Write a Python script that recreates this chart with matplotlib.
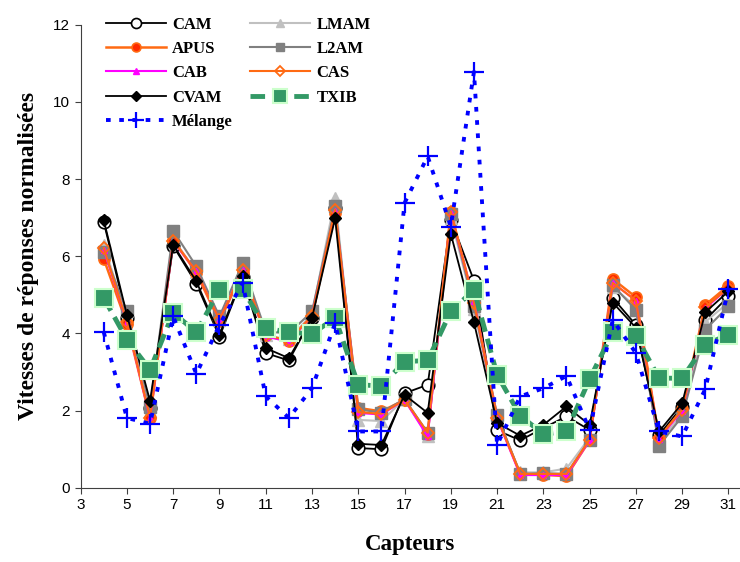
import numpy as np
import matplotlib
matplotlib.use('Agg')
import matplotlib.pyplot as plt

# sensors 4..31
capteurs = list(range(4, 32))

cam = [6.88, 4.40, 2.07, 6.27, 5.29, 3.91, 5.45, 3.49, 3.30, 4.40, 7.25, 1.03, 1.00, 2.45,
       2.67, 6.95, 5.37, 1.49, 1.23, 1.55, 1.85, 1.50, 4.92, 4.22, 1.37, 2.10, 4.35, 4.96]
lmam = [6.30, 4.40, 2.00, 6.45, 5.60, 4.35, 5.65, 3.95, 3.85, 4.50, 7.51, 1.76, 1.73, 2.30,
        1.35, 7.00, 4.64, 1.80, 0.40, 0.40, 0.50, 1.30, 5.20, 4.70, 1.20, 1.90, 4.30, 4.80]
apus = [5.93, 4.25, 1.81, 6.43, 5.57, 4.31, 5.60, 3.95, 3.80, 4.45, 7.12, 2.07, 1.98, 2.28,
        1.40, 7.16, 4.83, 1.85, 0.36, 0.34, 0.30, 1.23, 5.41, 4.94, 1.29, 2.04, 4.74, 5.24]
l2am = [6.12, 4.57, 2.09, 6.66, 5.74, 4.44, 5.82, 4.05, 4.00, 4.57, 7.29, 2.03, 1.95, 2.30,
        1.43, 7.10, 4.70, 1.89, 0.36, 0.38, 0.36, 1.25, 5.25, 4.61, 1.09, 1.85, 4.10, 4.70]
cab = [6.17, 4.29, 1.80, 6.38, 5.61, 4.35, 5.65, 3.92, 3.79, 4.46, 7.17, 1.94, 1.90, 2.28,
       1.33, 7.12, 4.83, 1.80, 0.33, 0.33, 0.33, 1.23, 5.31, 4.85, 1.27, 2.00, 4.65, 5.18]
cas = [6.21, 4.30, 1.82, 6.40, 5.61, 4.35, 5.65, 3.95, 3.82, 4.46, 7.21, 1.96, 1.92, 2.28,
       1.43, 7.16, 4.80, 1.82, 0.36, 0.36, 0.36, 1.25, 5.31, 4.85, 1.30, 2.02, 4.68, 5.18]
cvam = [6.93, 4.48, 2.25, 6.30, 5.35, 3.97, 5.50, 3.62, 3.36, 4.40, 6.99, 1.14, 1.11, 2.41,
        1.94, 6.58, 4.29, 1.68, 1.35, 1.63, 2.11, 1.63, 4.80, 4.15, 1.46, 2.19, 4.55, 5.09]
txib = [4.92, 3.84, 3.06, 4.54, 4.03, 5.13, 5.15, 4.14, 4.03, 3.99, 4.40, 2.67, 2.64, 3.27,
        3.30, 4.57, 5.13, 2.93, 1.87, 1.39, 1.46, 2.82, 4.03, 3.94, 2.84, 2.84, 3.71, 3.97]
melange = [4.03, 1.81, 1.66, 4.44, 2.95, 4.22, 5.31, 2.37, 1.81, 2.58, 4.27, 1.46, 1.46, 7.38,
           8.59, 6.77, 10.78, 1.11, 2.37, 2.58, 2.90, 1.50, 4.35, 3.49, 1.46, 1.33, 2.56, 5.15]

x_ticks = list(range(3, 32, 2))
y_ticks = list(range(0, 13, 2))

fig = plt.figure(figsize=(7.4, 5.62), dpi=100)
ax = fig.add_axes([0.109, 0.132, 0.891, 0.824])

h = {}
h['CAM'], = ax.plot(capteurs, cam, color='black', lw=1.3, marker='o', ms=9,
                    mfc='white', mec='black', mew=1.2, label='CAM')
h['LMAM'], = ax.plot(capteurs, lmam, color='#C0C0C0', lw=1.5, marker='^', ms=8,
                     mfc='#C0C0C0', mec='#C0C0C0', label='LMAM')
h['APUS'], = ax.plot(capteurs, apus, color='#FF6A13', lw=1.8, marker='o', ms=8,
                     mfc='#FF2A00', mec='#FF6A13', mew=1.2, label='APUS')
h['L2AM'], = ax.plot(capteurs, l2am, color='#808080', lw=1.5, marker='s', ms=8,
                     mfc='#808080', mec='#808080', label='L2AM')
h['CAB'], = ax.plot(capteurs, cab, color='#FF00FF', lw=1.5, marker='^', ms=5,
                    mfc='#FF00FF', mec='#FF00FF', label='CAB')
h['CAS'], = ax.plot(capteurs, cas, color='#FF6A13', lw=1.5, marker='D', ms=6,
                    mfc='none', mec='#FF6A13', mew=1.3, label='CAS')
h['CVAM'], = ax.plot(capteurs, cvam, color='black', lw=1.3, marker='D', ms=6,
                     mfc='black', mec='black', label='CVAM')
h['TXIB'], = ax.plot(capteurs, txib, color='#339966', lw=3.5, ls=(0, (3, 1.5)),
                     marker='s', ms=13, mfc='#339966', mec='#CCFFCC', mew=1.5, label='TXIB')
h['Mélange'], = ax.plot(capteurs, melange, color='#0000FF', lw=2.8, ls=(0, (1.2, 2.2)),
                        marker='+', ms=14, mew=1.6, mec='#0000FF', label='Mélange')

order = ['CAM', 'APUS', 'CAB', 'CVAM', 'Mélange', 'LMAM', 'L2AM', 'CAS', 'TXIB']
leg = ax.legend([h[k] for k in order], order, ncol=2, loc='upper left',
                bbox_to_anchor=(0.015, 1.05), frameon=False, handlelength=3.6,
                handletextpad=0.4, columnspacing=1.0, labelspacing=0.5,
                markerscale=0.8,
                prop={'family': 'Liberation Serif', 'weight': 'bold', 'size': 12})

ax.set_xlim(3, 31.5)
ax.set_ylim(0, 12)
ax.set_xticks(x_ticks)
ax.set_yticks(y_ticks)
for lab in ax.get_xticklabels() + ax.get_yticklabels():
    lab.set_family('Liberation Sans')
    lab.set_fontsize(11)
ax.tick_params(direction='out', length=4, color='#404040')
ax.spines['top'].set_visible(False)
ax.spines['right'].set_visible(False)
ax.spines['left'].set_color('#404040')
ax.spines['bottom'].set_color('#404040')

ax.set_xlabel('Capteurs', family='Liberation Serif', weight='bold', fontsize=16.5, labelpad=16)
ax.set_ylabel('Vitesses de réponses normalisées', family='Liberation Serif',
              weight='bold', fontsize=17, labelpad=10)

fig.savefig('out.png', dpi=100)
